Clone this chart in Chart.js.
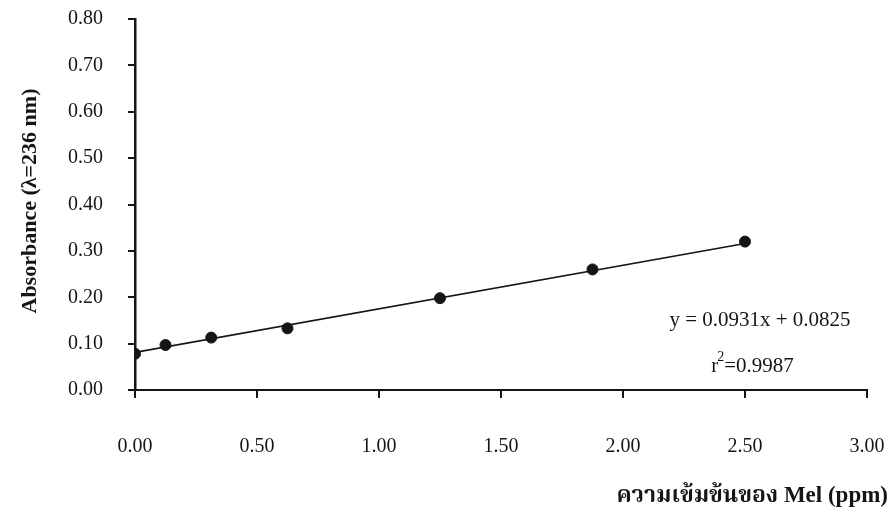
<!DOCTYPE html>
<html>
<head>
<meta charset="utf-8">
<script src="https://cdn.jsdelivr.net/npm/chart.js@4.4.1/dist/chart.umd.min.js"></script>
<style>
  html, body { margin: 0; padding: 0; background: #fff; }
  #wrap { width: 890px; height: 518px; position: relative; }
</style>
</head>
<body>
<div id="wrap"><canvas id="c" width="890" height="518"></canvas></div>
<script>
// ---- data ----
const concentrations = [0, 0.125, 0.3125, 0.625, 1.25, 1.875, 2.5];     // ppm
const absorbances    = [0.078, 0.097, 0.113, 0.133, 0.198, 0.260, 0.320];
const trendX = [0, 2.5];
const trendY = [0.081, 0.316];
const xTicks = [0, 0.5, 1.0, 1.5, 2.0, 2.5, 3.0];
const yTicks = [0, 0.1, 0.2, 0.3, 0.4, 0.5, 0.6, 0.7, 0.8];
const yTitle = "Absorbance (λ=236 nm)";
const xTitle = "ความเข้มข้นของ Mel (ppm)";
const eqText = "y = 0.0931x + 0.0825";
const r2Value = "=0.9987";

const SERIF = "'Liberation Serif','Times New Roman','Noto Serif Thai','Noto Sans Thai','Loma','Garuda',serif";
const INK = '#151515';

const pts = concentrations.map((x, i) => ({x, y: absorbances[i]}));
const trend = trendX.map((x, i) => ({x, y: trendY[i]}));

const textPlugin = {
  id: 'texts',
  afterDraw(chart) {
    const ctx = chart.ctx;
    ctx.save();
    ctx.fillStyle = INK;
    // y title
    ctx.font = "bold 22px " + SERIF;
    ctx.textAlign = 'center';
    ctx.textBaseline = 'middle';
    ctx.save();
    ctx.translate(30, 201);
    ctx.rotate(-Math.PI / 2);
    ctx.fillText(yTitle, 0, 0);
    ctx.restore();
    // x title
    ctx.font = "bold 23px " + SERIF;
    ctx.textAlign = 'right';
    ctx.fillText(xTitle, 888, 496);
    // equation
    ctx.font = "21px " + SERIF;
    ctx.textAlign = 'center';
    ctx.fillText(eqText, 760, 320);
    // r^2
    const wr = ctx.measureText('r').width;
    ctx.font = "14px " + SERIF;
    const w2 = ctx.measureText('2').width;
    ctx.font = "21px " + SERIF;
    const wv = ctx.measureText(r2Value).width;
    const total = wr + w2 + wv;
    const x0 = 753 - total / 2;
    ctx.textAlign = 'left';
    ctx.fillText('r', x0, 366);
    ctx.font = "14px " + SERIF;
    ctx.fillText('2', x0 + wr - 1, 357);
    ctx.font = "21px " + SERIF;
    ctx.fillText(r2Value, x0 + wr + w2 - 1, 366);
    ctx.restore();
  }
};

new Chart(document.getElementById('c'), {
  type: 'scatter',
  data: {
    datasets: [
      {
        label: 'Linear fit',
        data: trend,
        showLine: true,
        borderColor: INK,
        borderWidth: 1.6,
        pointRadius: 0,
        fill: false
      },
      {
        label: 'Absorbance',
        data: pts,
        pointRadius: 5.5,
        pointBackgroundColor: INK,
        pointBorderColor: INK,
        pointBorderWidth: 1,
        showLine: false
      }
    ]
  },
  plugins: [textPlugin],
  options: {
    responsive: false,
    animation: false,
    devicePixelRatio: 1,
    layout: { padding: { top: 19, right: 23, left: 0, bottom: 0 } },
    plugins: { legend: { display: false }, tooltip: { enabled: false } },
    scales: {
      x: {
        type: 'linear',
        min: 0, max: 3,
        afterBuildTicks: s => { s.ticks = xTicks.map(v => ({value: v})); },
        afterFit: s => { s.height = 128; s.paddingLeft = 0; s.paddingRight = 0; },
        ticks: {
          callback: v => Number(v).toFixed(2),
          color: INK,
          font: { family: SERIF, size: 20 },
          padding: 37,
          maxRotation: 0
        },
        grid: { drawOnChartArea: false, drawTicks: true, tickLength: 8, color: INK, lineWidth: 2 },
        border: { color: INK, width: 2 }
      },
      y: {
        type: 'linear',
        min: 0, max: 0.8,
        afterBuildTicks: s => { s.ticks = yTicks.map(v => ({value: v})); },
        afterFit: s => { s.width = 135; s.paddingTop = 0; s.paddingBottom = 0; },
        ticks: {
          callback: v => Number(v).toFixed(2),
          color: INK,
          font: { family: SERIF, size: 20 },
          padding: 25
        },
        grid: { drawOnChartArea: false, drawTicks: true, tickLength: 7, color: INK, lineWidth: 2 },
        border: { color: INK, width: 2.5 }
      }
    }
  }
});
</script>
</body>
</html>
